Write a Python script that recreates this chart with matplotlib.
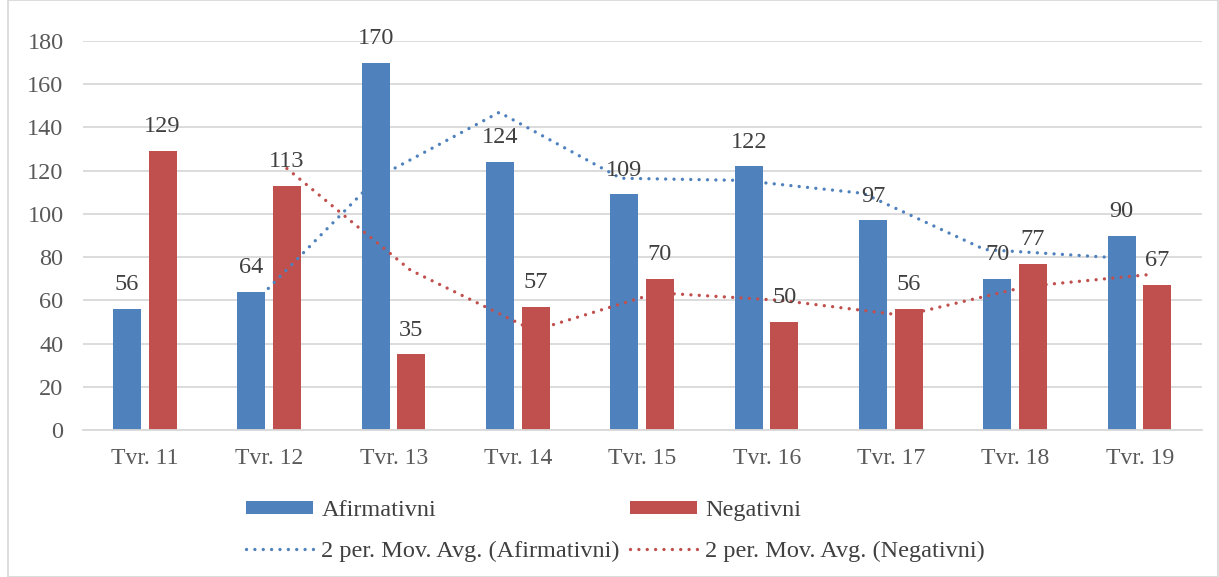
import matplotlib.pyplot as plt
from matplotlib.patches import Rectangle
import numpy as np

plt.rcParams['font.family'] = ['Liberation Serif', 'DejaVu Serif']

# data
quarters = ['Tvr. 11', 'Tvr. 12', 'Tvr. 13', 'Tvr. 14', 'Tvr. 15',
            'Tvr. 16', 'Tvr. 17', 'Tvr. 18', 'Tvr. 19']
afirmativni = [56, 64, 170, 124, 109, 122, 97, 70, 90]
negativni = [129, 113, 35, 57, 70, 50, 56, 77, 67]
# 2 period moving average read from the trendlines (start at Tvr. 12)
ma_afirmativni = [60, 117, 147, 116.5, 115.5, 109.5, 83.5, 80]
ma_negativni = [121, 74, 46, 63.5, 60, 53, 66.5, 72]

blue = '#4F81BD'
red = '#C0504D'
txt = '#404040'

fig = plt.figure(figsize=(12.19, 5.77), dpi=100)
ax = fig.add_axes([83/1219, 1-430/577, (1202-83)/1219, (430-41)/577])

x = np.arange(len(quarters))
w = 0.225
b1 = ax.bar(x - 0.145, afirmativni, w, color=blue, zorder=2, label='Afirmativni')
b2 = ax.bar(x + 0.14, negativni, w, color=red, zorder=2, label='Negativni')

for rects, vals in ((b1, afirmativni), (b2, negativni)):
    for r, v in zip(rects, vals):
        ax.annotate(str(v), (r.get_x() + r.get_width()/2, v), xytext=(0, 17.5),
                    textcoords='offset points', ha='center', va='center',
                    fontsize=17.5, color=txt, zorder=4)

# trendlines (Excel places them slightly off the bar centres)
xm = x[1:]
dots = (0, (0.01, 2.5))
l1, = ax.plot(xm * 0.976 - 0.08, ma_afirmativni, color=blue, lw=2.4,
              linestyle=dots, dash_capstyle='round', zorder=3,
              label='2 per. Mov. Avg. (Afirmativni)')
l2, = ax.plot(xm * 0.993 + 0.147, ma_negativni, color=red, lw=2.4,
              linestyle=dots, dash_capstyle='round', zorder=3,
              label='2 per. Mov. Avg. (Negativni)')

ax.set_xlim(-0.5, len(quarters) - 0.5)
ax.set_ylim(0, 180)
ax.set_yticks(range(0, 181, 20))
ax.set_xticks(x)
ax.set_xticklabels(quarters)
ax.grid(axis='y', color='#D9D9D9', lw=1.3, zorder=0)
ax.set_axisbelow(True)
for s in ['top', 'right', 'left']:
    ax.spines[s].set_visible(False)
ax.spines['bottom'].set_color('#D9D9D9')
ax.spines['bottom'].set_linewidth(1.3)
ax.tick_params(axis='both', length=0, labelsize=17.5, labelcolor='#595959')
ax.tick_params(axis='x', labelsize=17)
ax.tick_params(axis='y', pad=14)
ax.tick_params(axis='x', pad=13)

leg = fig.legend([b1, l1, b2, l2],
                 [b1.get_label(), l1.get_label(), b2.get_label(), l2.get_label()],
                 ncol=2, loc='center', bbox_to_anchor=(615.5/1219, 1-531/577),
                 frameon=False, fontsize=17.5, handlelength=2.76, handleheight=0.45,
                 handletextpad=0.33, columnspacing=0.41, labelspacing=0.82,
                 borderpad=0)
for t in leg.get_texts():
    t.set_color(txt)

# chart border
fig.patches.append(Rectangle((8/1219, 0), 1 - 9/1219, 1, transform=fig.transFigure,
                             fill=False, edgecolor='#D9D9D9', lw=1.3))

fig.savefig('out.png', dpi=100)
